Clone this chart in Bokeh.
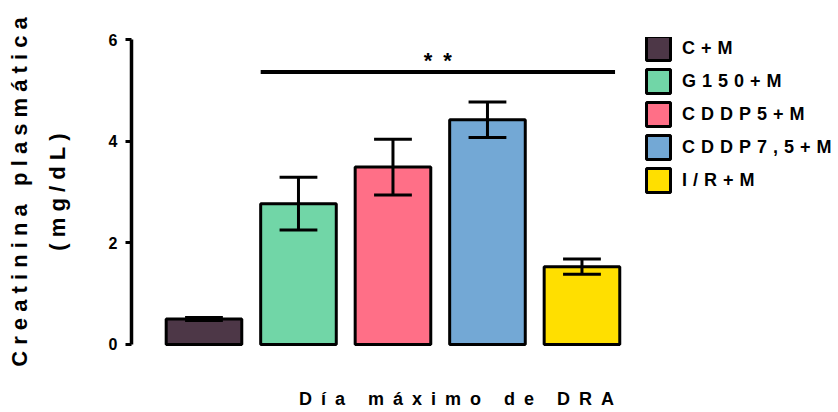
from bokeh.plotting import figure
from bokeh.models import (Range1d, FixedTicker, LinearAxis, Legend, LegendItem,
                          Label, ColumnDataSource)
from bokeh.embed import file_html
from bokeh.resources import INLINE

# --- data -------------------------------------------------------------
groups = ["C+M", "G150+M", "CDDP5+M", "CDDP7,5+M", "I/R+M"]
means = [0.50, 2.77, 3.49, 4.42, 1.53]      # plasma creatinine, mg/dL
sems = [0.03, 0.52, 0.55, 0.35, 0.15]
colors = ["#4d3747", "#71d6a7", "#ff6f87", "#73a8d5", "#ffdf00"]
y_ticks = [0, 2, 4, 6]
sig_text = "**"
sig_level = 5.36          # height of the significance bracket
sig_from, sig_to = 1, 4   # groups spanned by the bracket

y_title = "Creatinina plasmática"
y_units = "(mg/dL)"
x_title = "Día máximo de DRA"

# --- styling ----------------------------------------------------------
FONT = "Liberation Sans"
EN = "\u2002"     # en space, used as letter spacing
THIRD = "\u2004"  # three-per-em space
NB = "\u00a0"     # no-break space
EM = "\u2003"     # em space, pads the x title so it sits under the bars
BAR_W = 0.8
CAP_W = 0.4


def spaced(s, gap):
    return gap.join(s)


xs = list(range(1, len(groups) + 1))
lo = [m - s for m, s in zip(means, sems)]
hi = [m + s for m, s in zip(means, sems)]

src = ColumnDataSource(dict(
    x=xs, top=means, color=colors, lo=lo, hi=hi,
    cx0=[x - CAP_W / 2 for x in xs], cx1=[x + CAP_W / 2 for x in xs],
))

p = figure(width=838, height=412, output_backend="svg", toolbar_location=None,
           x_range=Range1d(0.233, 7.683), y_range=Range1d(-0.04, 6.04),
           min_border_left=131, min_border_right=3,
           min_border_top=37, min_border_bottom=66)
p.outline_line_color = None
p.xgrid.visible = False
p.ygrid.visible = False
p.background_fill_color = "white"
p.border_fill_color = "white"

# bars
bars = p.vbar(x="x", top="top", bottom=0, width=BAR_W, fill_color="color",
              line_color="black", line_width=3, source=src)

# error bars (stem + caps)
p.segment(x0="x", y0="lo", x1="x", y1="hi", line_color="black", line_width=3,
          source=src)
p.segment(x0="cx0", y0="hi", x1="cx1", y1="hi", line_color="black",
          line_width=3, source=src)
p.segment(x0="cx0", y0="lo", x1="cx1", y1="lo", line_color="black",
          line_width=3, source=src)

# significance bracket
sx0 = xs[sig_from] - BAR_W / 2
sx1 = xs[sig_to] + BAR_W / 2 - 0.05
p.segment(x0=[sx0], y0=[sig_level], x1=[sx1], y1=[sig_level],
          line_color="black", line_width=4, line_cap="butt")
p.add_layout(Label(x=(sx0 + sx1) / 2, y=sig_level + 0.22,
                   text=spaced(sig_text, EN), text_align="center",
                   text_baseline="alphabetic", text_font=FONT,
                   text_font_size="22px", text_font_style="bold",
                   text_color="black"))

# y axis with ticks and the units line
ya = p.yaxis[0]
ya.ticker = FixedTicker(ticks=y_ticks, minor_ticks=[])
ya.bounds = (0, 6)
ya.axis_line_width = 3.5
ya.axis_line_color = "black"
ya.major_tick_line_width = 3
ya.major_tick_line_color = "black"
ya.major_tick_in = 0
ya.major_tick_out = 6
ya.minor_tick_line_color = None
ya.major_label_standoff = 8
ya.major_label_text_font = FONT
ya.major_label_text_font_size = "16px"
ya.major_label_text_font_style = "bold"
ya.major_label_text_color = "black"
ya.axis_label = spaced(y_units, NB)
ya.axis_label_standoff = 36
ya.axis_label_text_font = FONT
ya.axis_label_text_font_size = "22px"
ya.axis_label_text_font_style = "bold"
ya.axis_label_text_color = "black"

# outer label-only axis for the measurement name
ya2 = LinearAxis(ticker=FixedTicker(ticks=[], minor_ticks=[]),
                 axis_line_color=None, major_tick_line_color=None,
                 minor_tick_line_color=None, major_tick_out=0,
                 major_label_standoff=0,
                 axis_label=spaced(y_title, NB), axis_label_standoff=10,
                 axis_label_text_font=FONT, axis_label_text_font_size="22px",
                 axis_label_text_font_style="bold",
                 axis_label_text_color="black")
p.add_layout(ya2, "left")

# x axis: title only (no line, no ticks)
xa = p.xaxis[0]
xa.ticker = FixedTicker(ticks=[], minor_ticks=[])
xa.axis_line_color = None
xa.major_tick_line_color = None
xa.minor_tick_line_color = None
xa.major_tick_out = 0
xa.major_label_standoff = 0
xa.axis_label = spaced(x_title, EN) + EM * 3
xa.axis_label_standoff = 42
xa.axis_label_text_font = FONT
xa.axis_label_text_font_size = "18px"
xa.axis_label_text_font_style = "bold"
xa.axis_label_text_color = "black"

# legend
items = [LegendItem(label=spaced(g, THIRD), renderers=[bars], index=i)
         for i, g in enumerate(groups)]
legend = Legend(items=items, location=(512, 151), padding=0, margin=0,
                spacing=3, glyph_width=30, glyph_height=30, label_standoff=9,
                label_text_font=FONT, label_text_font_size="18px",
                label_text_font_style="bold", label_text_color="black",
                border_line_color=None, background_fill_alpha=0)
p.add_layout(legend)

open("out.html", "w").write(file_html(p, INLINE))
